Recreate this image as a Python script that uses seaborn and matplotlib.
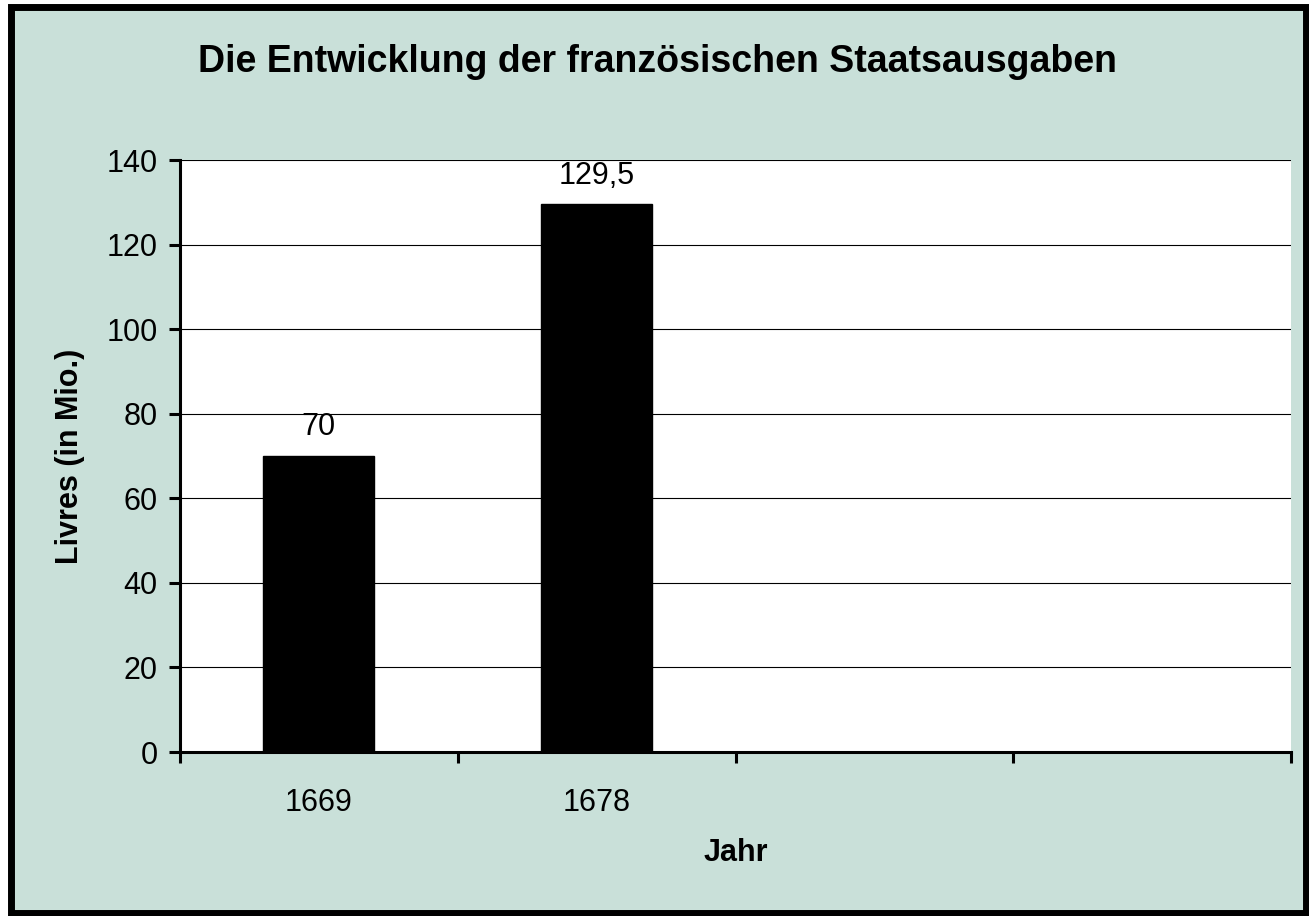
import numpy as np
import pandas as pd
import matplotlib
matplotlib.use("Agg")
import matplotlib.pyplot as plt
import seaborn as sns
from matplotlib.patches import Rectangle

# chart data
years = ["1669", "1678"]
livres = [70, 129.5]
slots = ["1669", "1678", "slot3", "slot4"]   # Excel axis has 4 category slots, 2 empty
y_ticks = [0, 20, 40, 60, 80, 100, 120, 140]

bg = "#C9E0D9"

sns.set_style("white")
plt.rcParams['font.family'] = ['Liberation Sans', 'DejaVu Sans']
plt.rcParams['text.color'] = 'black'
plt.rcParams['axes.labelcolor'] = 'black'
plt.rcParams['xtick.color'] = 'black'
plt.rcParams['ytick.color'] = 'black'

W, H = 1309, 916
fig = plt.figure(figsize=(W / 100, H / 100), dpi=100, facecolor="white")

# framed mint background
fig.patches.append(Rectangle((10.5 / W, 3.5 / H), (1306 - 10.5) / W, (909.5 - 3.5) / H,
                             transform=fig.transFigure, facecolor=bg, edgecolor="black",
                             linewidth=5, zorder=-5))

ax = fig.add_axes([180 / W, 1 - 752 / H, (1291 - 180) / W, (752 - 160) / H])
ax.set_facecolor("white")

df = pd.DataFrame({"Jahr": years, "Livres": livres})
sns.barplot(data=df, x="Jahr", y="Livres", order=slots, color="black",
            edgecolor="black", width=0.4, saturation=1, ax=ax, zorder=3)

ax.set_xlim(-0.5, len(slots) - 0.5)
ax.set_ylim(0, 140)
ax.set_yticks(y_ticks)
ax.yaxis.grid(True, color="black", linewidth=0.8)
ax.set_axisbelow(False)
for gl in ax.get_ygridlines():
    gl.set_zorder(1)

# category boundaries get the tick marks, labels sit in the middle
ax.set_xticks(np.arange(-0.5, len(slots), 1.0), labels=[""] * (len(slots) + 1))
ax.set_xticks(range(len(years)), labels=years, minor=True)
ax.tick_params(axis="x", which="major", direction="out", length=8, width=2.2, color="black")
ax.tick_params(axis="x", which="minor", length=0, pad=26, labelsize=22)
ax.tick_params(axis="y", direction="out", length=8, width=2.2, color="black",
               labelsize=22, pad=8)
ax.tick_params(axis="both", left=True, bottom=True)

for side in ["top", "right"]:
    ax.spines[side].set_visible(False)
for side in ["left", "bottom"]:
    ax.spines[side].set_color("black")
    ax.spines[side].set_linewidth(2.2)
    ax.spines[side].set_zorder(5)

for c in ax.containers:
    ax.bar_label(c, labels=[f"{v:g}".replace(".", ",") for v in livres],
                 padding=10, fontsize=22)

ax.set_xlabel("Jahr", fontsize=22, fontweight="bold")
ax.set_ylabel("Livres (in Mio.)", fontsize=22, fontweight="bold")
ax.xaxis.label.set_va("center")
ax.xaxis.set_label_coords(0.5, (752 - 853) / 592)
ax.yaxis.label.set_va("center")
ax.yaxis.set_label_coords((70 - 180) / 1111, 0.5)

fig.text(0.502, 1 - 62 / H, "Die Entwicklung der französischen Staatsausgaben",
         ha="center", va="center", fontsize=27, fontweight="bold")

fig.savefig("out.png", dpi=100, facecolor=fig.get_facecolor())
